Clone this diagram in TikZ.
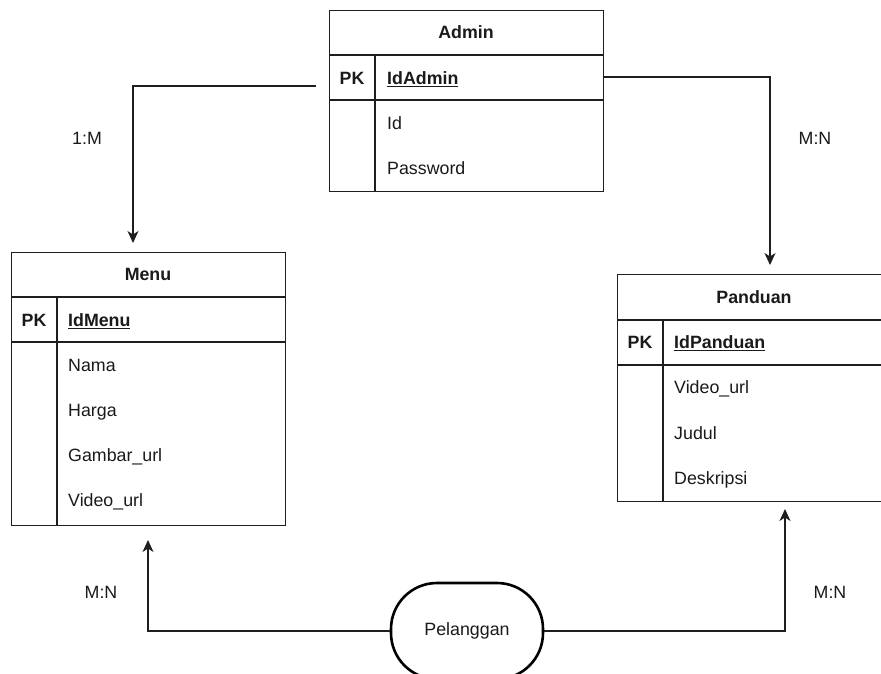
\documentclass[tikz,border=0pt]{standalone}
\usepackage{fontspec}
\setmainfont{Liberation Sans}
\usetikzlibrary{arrows.meta}
\definecolor{ln}{HTML}{1E1E1E}
\definecolor{tx}{HTML}{1A1A1A}
\newcommand{\fsz}{\fontsize{17.8}{20}\selectfont}
\begin{document}
\begin{tikzpicture}[x=1pt,y=-1pt,
  tbl/.style={draw=ln, line width=1.4pt, rectangle, inner sep=0pt, anchor=north west},
  sep/.style={draw=ln, line width=1.4pt},
  txt/.style={text=tx, inner sep=0pt, text height=12.7pt, text depth=0pt},
  hdr/.style={txt, font=\fsz\bfseries},
  pk/.style={txt, font=\fsz\bfseries},
  fld/.style={txt, font=\fsz, anchor=west},
  lbl/.style={txt, font=\fsz},
  arr/.style={draw=ln, line width=1.2pt, -{Stealth[length=12pt,width=11pt,inset=3.5pt]}},
  ent/.style={draw=black, line width=2.6pt, rectangle, rounded corners=46pt, minimum width=152pt, minimum height=96pt, font=\fsz, text=tx}]
\useasboundingbox (0,0) rectangle (881,673);
\clip (0,0) rectangle (881,673);
\fill[white] (0,0) rectangle (881,673);

% Admin
\node[tbl, minimum width=274pt, minimum height=181.5pt] (admin) at (329,9.5) {};
\draw[sep] (329,55) -- (603,55);
\draw[sep] (329,100) -- (603,100);
\draw[sep] (375,55) -- (375,191);
\node[hdr] (adminH) at (466,32) {Admin};
\node[pk] (adminPK) at (352,78) {PK};
\node[fld] (adminId0) at (387,78) {\bfseries\underline{IdAdmin}};
\node[fld] (adminId) at (387,123) {Id};
\node[fld] (adminPw) at (387,168) {Password};

% Menu
\node[tbl, minimum width=274pt, minimum height=273pt] (menu) at (11,252) {};
\draw[sep] (11,297) -- (285,297);
\draw[sep] (11,342) -- (285,342);
\draw[sep] (57,297) -- (57,525);
\node[hdr] (menuH) at (148,274) {Menu};
\node[pk] (menuPK) at (34,320) {PK};
\node[fld] (menuId) at (68,320) {\bfseries\underline{IdMenu}};
\node[fld] (menuNama) at (68,365) {Nama};
\node[fld] (menuHarga) at (68,410) {Harga};
\node[fld] (menuGambar) at (68,455) {Gambar\_url};
\node[fld] (menuVideo) at (68,500) {Video\_url};

% Panduan
\node[tbl, minimum width=274pt, minimum height=227pt] (pand) at (617,274) {};
\draw[sep] (617,320) -- (891,320);
\draw[sep] (617,365) -- (891,365);
\draw[sep] (663,320) -- (663,501);
\node[hdr] (pandH) at (754,297) {Panduan};
\node[pk] (pandPK) at (640,342) {PK};
\node[fld] (pandId) at (674,342) {\bfseries\underline{IdPanduan}};
\node[fld] (pandVideo) at (674,387) {Video\_url};
\node[fld] (pandJudul) at (674,433) {Judul};
\node[fld] (pandDesk) at (674,478) {Deskripsi};

% Pelanggan
\node[ent] (pel) at (467,631) {\raisebox{2pt}{Pelanggan}};

% connector ends
\coordinate (a1) at (316,86);
\coordinate (m1) at (133,243);
\coordinate (a2) at (603,77);
\coordinate (p1) at (770,265);
\coordinate (m2) at (148,540);
\coordinate (p2) at (785,509);

\draw[arr] (a1) -| (m1);
\draw[arr] (a2) -| (p1);
\draw[arr] (pel.west) -| (m2);
\draw[arr] (pel.east) -| (p2);

% labels
\node[lbl] (l1) at (87,138) {1:M};
\node[lbl] (l2) at (815,138) {M:N};
\node[lbl] (l3) at (101,592) {M:N};
\node[lbl] (l4) at (830,592) {M:N};
\end{tikzpicture}
\end{document}
